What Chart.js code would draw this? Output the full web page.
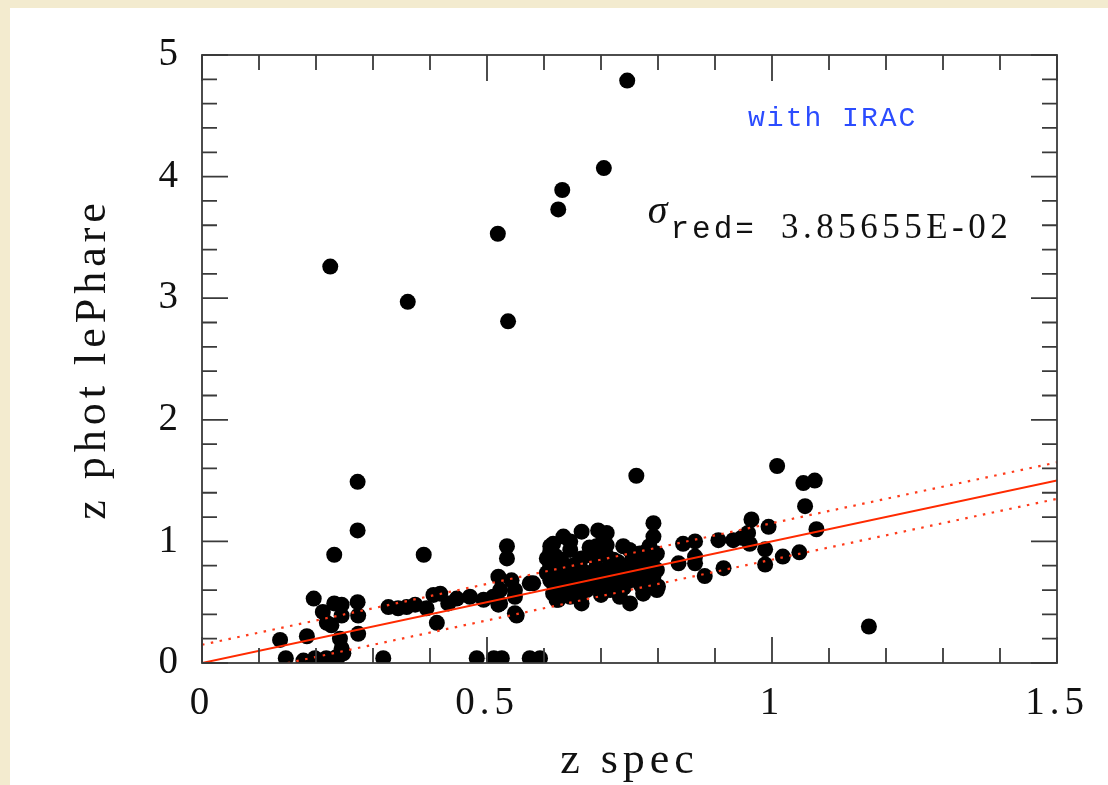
<!DOCTYPE html>
<html>
<head>
<meta charset="utf-8">
<script src="https://cdn.jsdelivr.net/npm/chart.js@4"></script>
<style>
  html, body { margin: 0; padding: 0; background: #f3ebcf; }
  #wrap { position: absolute; left: 10px; top: 8px; width: 1098px; height: 777px; background: #fff; }
</style>
</head>
<body>
<div id="wrap"><canvas id="grafico"></canvas></div>
<script>
// z spec / z phot lePhare
const zSpec = [
  0.746, 0.705, 0.632, 0.625, 0.519, 0.225, 0.361, 0.537, 1.009, 1.055, 1.075, 1.058, 1.078, 0.762, 1.170,
  0.273, 0.273, 0.232, 0.389,
  0.196, 0.212, 0.219, 0.227, 0.232, 0.245, 0.245, 0.273, 0.274, 0.274, 0.242, 0.245, 0.239, 0.248,
  0.137, 0.184, 0.147, 0.178, 0.198, 0.218, 0.236, 0.318,
  0.327, 0.344, 0.359, 0.374, 0.394, 0.406, 0.418, 0.412, 0.432, 0.447, 0.470, 0.494,
  0.482, 0.512, 0.526, 0.575, 0.593,
  0.520, 0.535, 0.535, 0.520, 0.523, 0.543, 0.549, 0.552, 0.575, 0.581, 0.511, 0.523, 0.549, 0.549,
  0.611, 0.611, 0.611, 0.611, 0.611, 0.616, 0.616, 0.616, 0.622, 0.625, 0.634, 0.634, 0.640, 0.640,
  0.646, 0.646, 0.646, 0.651, 0.651, 0.663, 0.663, 0.666, 0.666, 0.666, 0.666, 0.675, 0.687, 0.692,
  0.692, 0.692, 0.692, 0.695, 0.710, 0.698, 0.704, 0.710, 0.716, 0.722, 0.733, 0.739, 0.739, 0.751,
  0.751, 0.768, 0.768, 0.774, 0.792, 0.792, 0.792, 0.792, 0.798, 0.798, 0.798, 0.800,
  0.720, 0.730, 0.700, 0.760, 0.780, 0.740, 0.680, 0.630, 0.620, 0.660, 0.700, 0.755, 0.780, 0.640,
  0.620, 0.630, 0.650, 0.670, 0.680, 0.690, 0.710, 0.720, 0.730, 0.740, 0.750, 0.760, 0.770, 0.780,
  0.790, 0.785, 0.710, 0.605, 0.605,
  0.844, 0.865, 0.865, 0.865, 0.836, 0.882, 0.906, 0.915, 0.932, 0.947, 0.958, 0.964, 0.961, 0.994,
  0.988, 0.988, 1.019, 1.048
];
const zPhot = [
  4.79, 4.07, 3.89, 3.73, 3.53, 3.26, 2.97, 2.81, 1.62, 1.48, 1.50, 1.29, 1.10, 1.54, 0.30,
  1.49, 1.09, 0.89, 0.89,
  0.53, 0.42, 0.33, 0.31, 0.49, 0.48, 0.39, 0.50, 0.39, 0.24, 0.20, 0.12, 0.05, 0.08,
  0.19, 0.22, 0.04, 0.02, 0.04, 0.04, 0.05, 0.04,
  0.46, 0.45, 0.46, 0.48, 0.45, 0.56, 0.57, 0.33, 0.49, 0.53, 0.545, 0.52,
  0.04, 0.04, 0.04, 0.04, 0.04,
  0.71, 0.96, 0.86, 0.48, 0.60, 0.68, 0.60, 0.39, 0.655, 0.655, 0.545, 0.49, 0.545, 0.41,
  0.96, 0.92, 0.81, 0.79, 0.68, 0.98, 0.655, 0.57, 0.52, 0.52, 1.04, 0.79, 0.68, 0.655,
  1.00, 0.93, 0.545, 0.60, 0.71, 0.85, 0.71, 1.08, 0.86, 0.765, 0.49, 0.60, 0.87, 0.96,
  0.79, 0.68, 0.655, 1.09, 1.07, 0.63, 1.01, 0.765, 0.60, 0.85, 0.545, 0.96, 0.79, 0.68,
  0.49, 0.90, 0.74, 0.57, 1.15, 1.04, 0.87, 0.71, 0.60, 0.90, 0.765, 0.63,
  0.70, 0.75, 0.72, 0.80, 0.82, 0.62, 0.74, 0.72, 0.88, 0.58, 0.56, 0.86, 0.66, 0.62,
  0.62, 0.85, 0.80, 0.68, 0.95, 0.75, 0.88, 0.64, 0.83, 0.70, 0.93, 0.72, 0.64, 0.92,
  0.80, 0.96, 0.97, 0.86, 0.74,
  0.98, 1.00, 0.875, 0.82, 0.82, 0.715, 1.01, 0.78, 1.01, 1.03, 1.07, 1.18, 0.98, 1.12,
  0.935, 0.81, 0.875, 0.91
];

// one-to-one line and the +/-0.15 band
const lineX = [0, 1.5];
const lineY = [0, 1.5];
const upperX = [0, 1.5];
const upperY = [0.15, 1.65];
const lowerX = [0.15, 1.5];
const lowerY = [0, 1.35];

const xTicks = [0, 0.5, 1, 1.5];
const yTicks = [0, 1, 2, 3, 4, 5];

const etiqueta = 'with IRAC';
const sigmaTexto = 'red=';
const sigmaValor = '3.85655E-02';

const puntos = (xs, ys) => xs.map((x, i) => ({ x: x, y: ys[i] }));

// marco y marcas hacia dentro
const marcoPlugin = {
  id: 'marco',
  beforeDraw(chart) {
    chart.ctx.letterSpacing = '5px';
  },
  afterDraw(chart) {
    const ctx = chart.ctx;
    const a = chart.chartArea;
    const sx = chart.scales.x, sy = chart.scales.y;
    ctx.save();
    ctx.letterSpacing = '0px';
    ctx.strokeStyle = '#3a3a3a';
    ctx.lineWidth = 1.8;
    ctx.strokeRect(a.left, a.top, a.right - a.left, a.bottom - a.top);
    ctx.beginPath();
    for (let i = 0; i <= 15; i++) {
      const px = sx.getPixelForValue(i / 10);
      const len = i % 5 === 0 ? 26 : 15;
      ctx.moveTo(px, a.bottom); ctx.lineTo(px, a.bottom - len);
      ctx.moveTo(px, a.top); ctx.lineTo(px, a.top + len);
    }
    for (let i = 0; i <= 25; i++) {
      const py = sy.getPixelForValue(i / 5);
      const len = i % 5 === 0 ? 26 : 15;
      ctx.moveTo(a.left, py); ctx.lineTo(a.left + len, py);
      ctx.moveTo(a.right, py); ctx.lineTo(a.right - len, py);
    }
    ctx.stroke();

    // textos
    ctx.textBaseline = 'alphabetic';
    ctx.textAlign = 'left';
    ctx.fillStyle = '#2b4cff';
    ctx.font = '28px "Liberation Mono"';
    ctx.letterSpacing = '2px';
    ctx.fillText(etiqueta, sx.getPixelForValue(0.958), sy.getPixelForValue(4.42));

    ctx.fillStyle = '#111';
    let x0 = sx.getPixelForValue(0.782);
    ctx.font = 'italic 40px "Liberation Serif"';
    ctx.letterSpacing = '0px';
    ctx.fillText('σ', x0, sy.getPixelForValue(3.62));
    x0 += ctx.measureText('σ').width + 3;
    ctx.font = '31px "Liberation Mono"';
    ctx.letterSpacing = '3px';
    ctx.fillText(sigmaTexto, x0, sy.getPixelForValue(3.495));
    x0 += ctx.measureText(sigmaTexto).width + 24;
    ctx.font = '35px "Liberation Serif"';
    ctx.letterSpacing = '4.5px';
    ctx.fillText(sigmaValor, x0, sy.getPixelForValue(3.495));
    ctx.restore();
  }
};

Chart.defaults.font.family = '"Liberation Serif", serif';
Chart.defaults.color = '#111';

const ctx = document.getElementById('grafico').getContext('2d');
new Chart(ctx, {
  type: 'scatter',
  data: {
    datasets: [
      {
        label: 'z=z',
        data: puntos(lineX, lineY),
        showLine: true,
        borderColor: '#ff2a00',
        borderWidth: 2,
        pointRadius: 0
      },
      {
        label: '+0.15',
        data: puntos(upperX, upperY),
        showLine: true,
        borderColor: '#ff3b1a',
        borderWidth: 2.2,
        borderDash: [2.5, 6.5],
        pointRadius: 0
      },
      {
        label: '-0.15',
        data: puntos(lowerX, lowerY),
        showLine: true,
        borderColor: '#ff3b1a',
        borderWidth: 2.2,
        borderDash: [2.5, 6.5],
        pointRadius: 0
      },
      {
        label: 'galaxias',
        data: puntos(zSpec, zPhot),
        backgroundColor: '#000',
        borderWidth: 0,
        pointRadius: 8,
        pointHoverRadius: 8
      }
    ]
  },
  options: {
    responsive: true,
    maintainAspectRatio: false,
    animation: false,
    layout: { padding: { top: 47, right: 51, left: 0, bottom: 0 } },
    plugins: { legend: { display: false }, tooltip: { enabled: false } },
    scales: {
      x: {
        type: 'linear',
        min: 0,
        max: 1.5,
        afterBuildTicks: s => { s.ticks = xTicks.map(v => ({ value: v })); },
        afterFit: s => { s.height = 122; },
        grid: { display: false, drawTicks: false },
        border: { display: false },
        ticks: {
          font: { size: 39, lineHeight: 1 },
          padding: 21,
          maxRotation: 0,
          callback: v => String(v)
        },
        title: {
          display: true,
          text: 'z spec',
          font: { size: 44, lineHeight: 1 },
          padding: { top: 0, bottom: 2 }
        }
      },
      y: {
        type: 'linear',
        min: 0,
        max: 5,
        afterBuildTicks: s => { s.ticks = yTicks.map(v => ({ value: v })); },
        afterFit: s => { s.width = 192; },
        grid: { display: false, drawTicks: false },
        border: { display: false },
        ticks: {
          font: { size: 39, lineHeight: 1 },
          padding: 19,
          callback: v => String(v)
        },
        title: {
          display: true,
          text: 'z phot lePhare',
          font: { size: 44, lineHeight: 1 },
          padding: { top: 61, bottom: 0 }
        }
      }
    }
  },
  plugins: [marcoPlugin]
});
</script>
</body>
</html>
